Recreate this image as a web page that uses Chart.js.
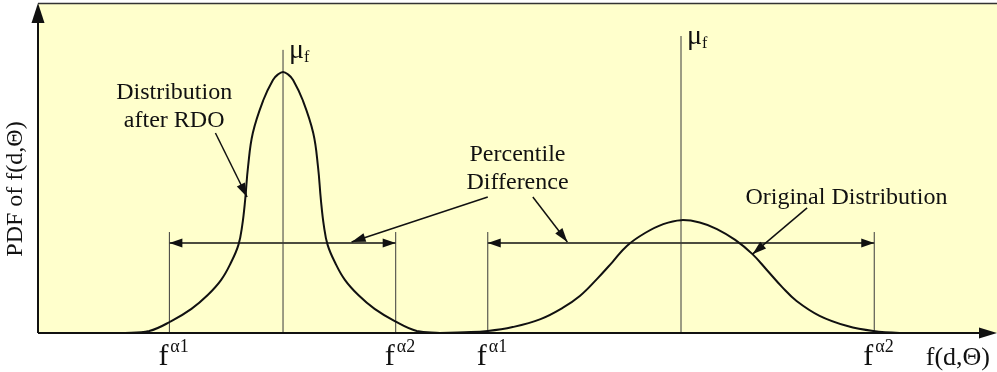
<!DOCTYPE html>
<html>
<head>
<meta charset="utf-8">
<title>PDF of f(d,Θ)</title>
<script src="https://cdn.jsdelivr.net/npm/chart.js@4"></script>
<style>
  html, body { margin: 0; padding: 0; background: #fff; }
  canvas { display: block; }
</style>
</head>
<body>
<canvas id="chart" width="997" height="372"></canvas>
<script>
// distribution after RDO (narrow, peaked)
const rdoX = [6.5, 9.1, 11.6, 13.9, 16.0, 17.7, 19.1, 20.1, 20.9, 21.3, 21.6, 21.9, 22.4, 23.5, 24.5, 25.0,
              25.55, 26.1, 26.6, 27.6, 28.7, 29.2, 29.5, 29.8, 30.2, 31.0, 32.0, 33.4, 35.1, 37.2, 39.5, 41.9];
const rdoY = [0, 0, 0.6, 3.6, 7.3, 11.5, 16.1, 21.2, 26.7, 32.7, 40.3, 50.3, 60.6, 70.6, 76.7, 78.3,
              79.1, 78.3, 76.7, 70.6, 60.6, 50.3, 40.3, 32.7, 26.7, 21.2, 16.1, 11.5, 7.3, 3.6, 0.6, 0];

// original distribution (wide)
const origX = [41.9, 44.5, 46.9, 49.5, 52.4, 54.7, 56.5, 58.3, 59.9, 61.4, 63.3, 65.2, 67.05,
               69.0, 70.8, 72.7, 74.5, 76.0, 77.6, 79.1, 81.5, 84.4, 87.1, 89.9, 92.7];
const origY = [0, 0.2, 0.6, 1.8, 4.2, 7.6, 11.2, 16.4, 21.5, 26.4, 30.3, 33.0, 34.2,
               33.5, 31.5, 28.2, 23.9, 19.1, 13.9, 9.7, 5.2, 2.1, 0.6, 0, 0];

// means and percentiles
const meanX = [25.55, 67.05];
const meanTop = [85.8, 90.0];
const pctX = [13.7, 37.3, 46.9, 87.2];
const pctTop = 30.6;
const rangeY = 27.3;
const pctLabels = ['α1', 'α2', 'α1', 'α2'];

// annotations: text lines, centre x, baselines
const noteLines = [['Distribution', 'after RDO'], ['Percentile', 'Difference'], ['Original Distribution']];
const noteX = [14.2, 50.0, 84.3];
const noteY = [[70.9, 62.4], [52.1, 43.6], [39.1]];

// annotation arrows: [fromX, fromY, toX, toY]
const pointers = [
  [18.5, 60.6, 21.8, 41.2],
  [46.9, 41.2, 32.7, 27.6],
  [51.6, 41.2, 55.2, 27.6],
  [80.2, 37.9, 74.5, 23.9]
];

const ink = '#111';
const thin = '#3a3a3a';
const serif = '"Liberation Serif", "Times New Roman", serif';

function pts(xs, ys) {
  return xs.map((x, i) => ({ x: x, y: ys[i] }));
}

const datasets = [];
datasets.push({
  data: pts(rdoX, rdoY), borderColor: ink, borderWidth: 2,
  tension: 0.4, pointRadius: 0, showLine: true
});
datasets.push({
  data: pts(origX, origY), borderColor: ink, borderWidth: 2,
  tension: 0.4, pointRadius: 0, showLine: true
});
meanX.forEach((x, i) => {
  datasets.push({ data: [{ x: x, y: 0 }, { x: x, y: meanTop[i] }], borderColor: thin, borderWidth: 1, pointRadius: 0, showLine: true });
});
pctX.forEach(x => {
  datasets.push({ data: [{ x: x, y: 0 }, { x: x, y: pctTop }], borderColor: thin, borderWidth: 1, pointRadius: 0, showLine: true });
});
// percentile ranges
for (let i = 0; i < pctX.length; i += 2) {
  datasets.push({ data: [{ x: pctX[i], y: rangeY }, { x: pctX[i + 1], y: rangeY }], borderColor: ink, borderWidth: 1.5, pointRadius: 0, showLine: true });
}

function arrowHead(ctx, x1, y1, x2, y2, len, half) {
  const a = Math.atan2(y2 - y1, x2 - x1);
  ctx.beginPath();
  ctx.moveTo(x2, y2);
  ctx.lineTo(x2 - len * Math.cos(a) + half * Math.sin(a), y2 - len * Math.sin(a) - half * Math.cos(a));
  ctx.lineTo(x2 - len * Math.cos(a) - half * Math.sin(a), y2 - len * Math.sin(a) + half * Math.cos(a));
  ctx.closePath();
  ctx.fill();
}

const decor = {
  id: 'decor',
  beforeDatasetsDraw(chart) {
    const { ctx, chartArea: a } = chart;
    ctx.save();
    ctx.fillStyle = '#FFFFCC';
    ctx.fillRect(a.left, a.top, a.right - a.left, a.bottom - a.top);
    ctx.restore();
  },
  afterDatasetsDraw(chart) {
    const { ctx, chartArea: a, scales } = chart;
    const X = v => scales.x.getPixelForValue(v);
    const Y = v => scales.y.getPixelForValue(v);
    ctx.save();
    ctx.fillStyle = ink;
    ctx.strokeStyle = ink;

    // top frame
    ctx.lineWidth = 1.5;
    ctx.strokeStyle = '#333';
    ctx.beginPath();
    ctx.moveTo(a.left, a.top + 0.5);
    ctx.lineTo(a.right, a.top + 0.5);
    ctx.stroke();

    // axes with arrows
    ctx.strokeStyle = ink;
    ctx.lineWidth = 2;
    ctx.beginPath();
    ctx.moveTo(a.left, a.bottom);
    ctx.lineTo(a.left, a.top + 15);
    ctx.moveTo(a.left, a.bottom);
    ctx.lineTo(a.right - 15, a.bottom);
    ctx.stroke();
    arrowHead(ctx, a.left, a.bottom, a.left, a.top, 20, 6.5);
    arrowHead(ctx, a.left, a.bottom, a.right, a.bottom, 18, 5.5);

    // arrowheads on percentile ranges
    for (let i = 0; i < pctX.length; i += 2) {
      const l = X(pctX[i]), r = X(pctX[i + 1]), y = Y(rangeY);
      arrowHead(ctx, r, y, l, y, 13, 4.5);
      arrowHead(ctx, l, y, r, y, 13, 4.5);
    }

    // pointer arrows
    ctx.lineWidth = 1.5;
    pointers.forEach(p => {
      const x1 = X(p[0]), y1 = Y(p[1]), x2 = X(p[2]), y2 = Y(p[3]);
      ctx.beginPath();
      ctx.moveTo(x1, y1);
      ctx.lineTo(x2, y2);
      ctx.stroke();
      arrowHead(ctx, x1, y1, x2, y2, 14, 4.5);
    });

    // annotation texts
    ctx.font = '24px ' + serif;
    ctx.textAlign = 'center';
    ctx.textBaseline = 'alphabetic';
    noteLines.forEach((lines, i) => {
      lines.forEach((t, j) => ctx.fillText(t, X(noteX[i]), Y(noteY[i][j])));
    });

    // mean labels
    ctx.textAlign = 'left';
    meanX.forEach((x, i) => {
      const px = X(x) + 6, top = Y(meanTop[i]);
      ctx.font = '28px ' + serif;
      ctx.fillText('μ', px, top + 8);
      const w = ctx.measureText('μ').width;
      ctx.font = '16px ' + serif;
      ctx.fillText('f', px + w, top + 12);
    });

    // percentile tick labels
    pctX.forEach((x, i) => {
      const px = X(x) - 11, base = a.bottom + 32;
      ctx.font = '30px ' + serif;
      ctx.fillText('f', px, base);
      const w = ctx.measureText('f').width;
      ctx.font = '18px ' + serif;
      ctx.fillText(pctLabels[i], px + w + 2, base - 13);
    });

    // x axis title
    ctx.font = '26px ' + serif;
    ctx.textAlign = 'right';
    ctx.fillText('f(d,Θ)', a.right - 7, a.bottom + 32);

    // y axis title
    ctx.translate(16, 189);
    ctx.rotate(-Math.PI / 2);
    ctx.textAlign = 'center';
    ctx.textBaseline = 'middle';
    ctx.font = '24px ' + serif;
    ctx.fillText('PDF of f(d,Θ)', 0, 0);
    ctx.restore();
  }
};

new Chart(document.getElementById('chart'), {
  type: 'scatter',
  data: { datasets: datasets },
  options: {
    responsive: false,
    animation: false,
    devicePixelRatio: 1,
    layout: { padding: { left: 38, right: 0, top: 3, bottom: 39 } },
    scales: {
      x: { type: 'linear', min: 0, max: 100, display: false },
      y: { type: 'linear', min: 0, max: 100, display: false }
    },
    plugins: { legend: { display: false }, tooltip: { enabled: false } },
    elements: { line: { fill: false } }
  },
  plugins: [decor]
});
</script>
</body>
</html>
